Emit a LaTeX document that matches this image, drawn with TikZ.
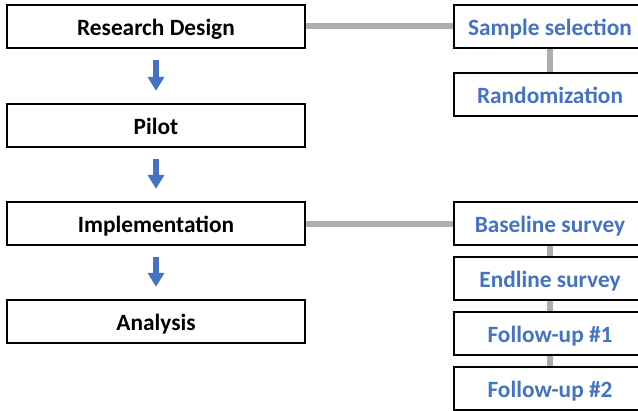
\documentclass[tikz,border=0pt]{standalone}
\usepackage{fontspec}
\setmainfont{Carlito}
\usetikzlibrary{arrows.meta}
\definecolor{stageblue}{HTML}{4472C4}
\definecolor{linkgray}{HTML}{B0ACAC}
\begin{document}
\begin{tikzpicture}[x=0.75pt,y=-0.75pt,
      stage/.style={rectangle, draw, line width=1.7pt, fill=white, minimum height=32.25pt, minimum width=223.5pt, align=center, text height=15pt, text depth=2pt, font=\bfseries\fontsize{17.5}{20}\selectfont},
      task/.style={stage, minimum width=144pt, text=stageblue},
      arrow/.style={-{Triangle[width=12pt,length=10.5pt]}, line width=4.5pt, stageblue, shorten <=8.25pt, shorten >=9pt},
      link/.style={linkgray, line width=4.5pt}
  ]
  \clip (0,0) rectangle (638,410);

  % Nodes
  \node[stage] (design) at (156,26.5) {Research Design};
  \node[stage] (pilot) at (156,125.5) {Pilot};
  \node[stage] (impl) at (156,223.5) {Implementation};
  \node[stage] (analysis) at (156,321.5) {Analysis};

  \node[task] (sample) at (550,26.5) {Sample selection};
  \node[task] (random) at (550,94.5) {Randomization};
  \node[task] (baseline) at (550,223.5) {Baseline survey};
  \node[task] (endline) at (550,278.5) {Endline survey};
  \node[task] (follow1) at (550,333.5) {Follow-up \#1};
  \node[task] (follow2) at (550,388.5) {Follow-up \#2};

  % Arrows
  \draw[arrow] (design) -- (pilot);
  \draw[arrow] (pilot) -- (impl);
  \draw[arrow] (impl) -- (analysis);

  % Links
  \draw[link] (design) -- (sample);
  \draw[link] (sample) -- (random);
  \draw[link] (impl) -- (baseline);
  \draw[link] (baseline) -- (endline);
  \draw[link] (endline) -- (follow1);
  \draw[link] (follow1) -- (follow2);

\end{tikzpicture}
\end{document}
